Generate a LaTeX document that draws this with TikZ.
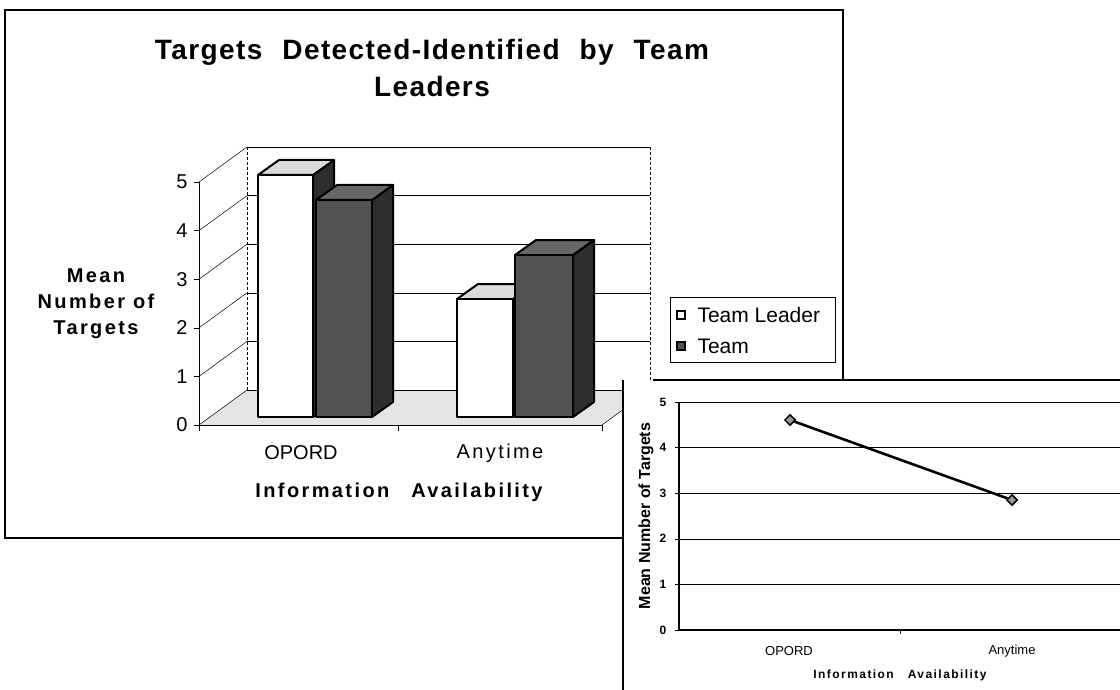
\documentclass[tikz,border=0pt]{standalone}
\usepackage{fontspec}
\setmainfont{Liberation Sans}
\newfontfamily\widefont[LetterSpace=12]{Liberation Sans}
\newfontfamily\titlefont[LetterSpace=5]{Liberation Sans}
\usetikzlibrary{shapes.geometric}

\begin{document}
\begin{tikzpicture}[x=1pt,y=-1pt,
    grid/.style={line width=0.5pt},
    wall/.style={line width=0.5pt, dashed, dash pattern=on 3pt off 2pt},
    barline/.style={line width=2pt, line join=round},
    ticklab/.style={font=\fontsize{20}{22}\selectfont},
    catlab/.style={font=\fontsize{20}{22}\selectfont},
    axtitle/.style={font=\fontsize{20}{26}\selectfont\widefont\bfseries, align=center},
    smalltick/.style={font=\fontsize{12}{14}\selectfont\bfseries},
    smallcat/.style={font=\fontsize{13}{15}\selectfont},
    marker/.style={diamond, draw, line width=1.5pt, fill=black!40, inner sep=0pt, minimum size=11pt}]
    % Define bar colors
    \definecolor{darkFront}{gray}{0.32}
    \definecolor{darkTop}{gray}{0.40}
    \definecolor{darkSide}{gray}{0.18}
    \definecolor{lightTop}{gray}{0.86}
    \definecolor{floorGray}{gray}{0.90}

    \useasboundingbox (0,0) rectangle (1120,690);

    % Outer frame of the bar chart
    \draw[line width=2.2pt] (5,10) rectangle (843,538);

    % Title
    \node[anchor=base, font=\fontsize{28}{30}\selectfont\titlefont\bfseries] (title1) at (432,60)
        {Targets\hspace{20pt}Detected-Identified\hspace{20pt}by\hspace{20pt}Team};
    \node[anchor=base, font=\fontsize{28}{30}\selectfont\titlefont\bfseries] (title2) at (432,97) {Leaders};

    % Floor, walls and grid lines
    \fill[floorGray] (199,425) -- (602,425) -- (650,390) -- (247,390) -- cycle;
    \draw[grid] (602,425) -- (650,390);
    \draw[wall] (247,147) -- (247,390);
    \draw[wall] (650,147) -- (650,390);
    \foreach \v in {0,...,5} {
        \draw[grid] (247,390-\v*48.6) -- (650,390-\v*48.6);
        \draw[grid] (199,425-\v*48.6) -- (247,390-\v*48.6);
        \draw[grid] (194,425-\v*48.6) -- (199,425-\v*48.6);
        \node[ticklab] (ylab\v) at (182,425-\v*48.6) {\v};
    }
    \draw[line width=0.8pt] (199,182) -- (199,425) -- (602,425);
    \foreach \x in {199,398,602} {
        \draw[grid] (\x,425) -- (\x,431);
    }

    % Bars: left/right/top/front/top face/side face
    \foreach \L/\R/\T/\fc/\tc/\sc in {258/313/175/white/lightTop/darkSide,
                                      316/372/200/darkFront/darkTop/darkSide,
                                      457/513/299/white/lightTop/darkSide,
                                      515/573/255/darkFront/darkTop/darkSide} {
        \filldraw[barline, fill=\sc] (\R,\T) -- (\R+21,\T-15) -- (\R+21,402) -- (\R,417) -- cycle;
        \filldraw[barline, fill=\tc] (\L,\T) -- (\L+21,\T-15) -- (\R+21,\T-15) -- (\R,\T) -- cycle;
        \filldraw[barline, fill=\fc] (\L,417) rectangle (\R,\T);
    }

    % Axis titles and categories
    \node[axtitle] (ytitle) at (96,304) {Mean\\Number of\\Targets};
    \node[catlab] (catO) at (301,453) {OPORD};
    \node[catlab] (catA) at (500,453) {\widefont Anytime};
    \node[font=\fontsize{20}{22}\selectfont\widefont\bfseries] (xtitle) at (399,492)
        {Information\hspace{22pt}Availability};

    % Legend
    \draw[line width=0.8pt] (670,297) rectangle (835,362);
    \draw[line width=2pt, fill=white] (677,311) rectangle (685,319);
    \draw[line width=2pt, fill=darkFront] (677,342) rectangle (685,350);
    \node[anchor=west, font=\fontsize{21}{23}\selectfont] (legTL) at (694,315) {Team Leader};
    \node[anchor=west, font=\fontsize{21}{23}\selectfont] (legT) at (694,346) {Team};

    % Line chart panel on top
    \fill[white] (623,380) rectangle (1125,695);
    \draw[line width=1.6pt] (623,380) -- (623,690);
    \draw[line width=1.6pt] (653,380) -- (1120,380);
    \foreach \v in {0,...,5} {
        \draw[grid] (679,630-\v*45.6) -- (1120,630-\v*45.6);
        \draw[grid] (675,630-\v*45.6) -- (679,630-\v*45.6);
        \node[smalltick] (tick\v) at (663,630-\v*45.6) {\v};
    }
    \draw[line width=1.5pt] (679,402) -- (679,630) -- (1120,630);
    \draw[grid] (900,630) -- (900,634);

    \node[marker] (pO) at (790,420) {};
    \node[marker] (pA) at (1012,500) {};
    \draw[line width=2.6pt] (pO) -- (pA);

    \node[smallcat] (catO2) at (789,651) {OPORD};
    \node[smallcat] (catA2) at (1012,651) {Anytime};
    \node[font=\fontsize{12}{14}\selectfont\widefont\bfseries] (xtitle2) at (900,675)
        {Information\hspace{14pt}Availability};
    \node[rotate=90, font=\fontsize{16}{18}\selectfont\bfseries] (ytitle2) at (646,516)
        {Mean Number of Targets};
\end{tikzpicture}
\end{document}
